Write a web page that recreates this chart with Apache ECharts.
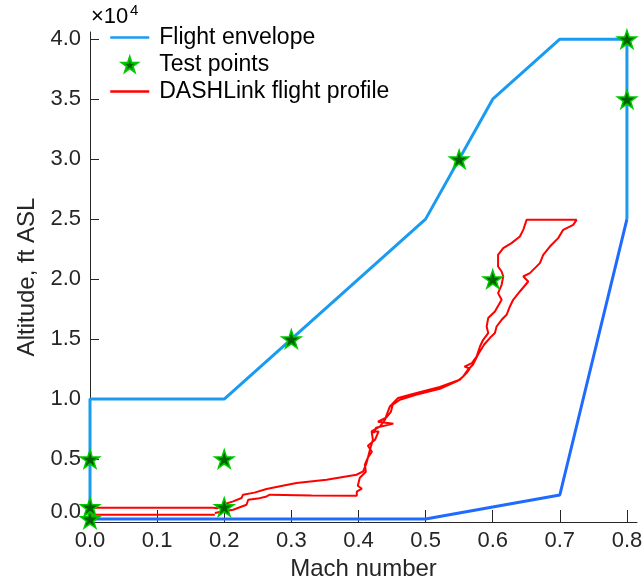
<!DOCTYPE html>
<html>
<head>
<meta charset="utf-8">
<script src="https://cdn.jsdelivr.net/npm/echarts@6/dist/echarts.min.js"></script>
<style>
html,body{margin:0;padding:0;background:#fff;}
#chart{width:644px;height:579px;}
</style>
</head>
<body>
<div id="chart"></div>
<script>
// ---- data ----
const xTicks = [0, 0.1, 0.2, 0.3, 0.4, 0.5, 0.6, 0.7, 0.8];
const yTicks = [0, 5000, 10000, 15000, 20000, 25000, 30000, 35000, 40000];

// flight envelope, upper boundary
const envUpperMach = [0, 0, 0.2, 0.5, 0.6, 0.7, 0.8, 0.8];
const envUpperAlt  = [0, 10000, 10000, 25000, 35000, 40000, 40000, 25000];
// flight envelope, lower boundary
const envLowerMach = [0, 0.5, 0.7, 0.8];
const envLowerAlt  = [0, 0, 2000, 25000];

// test points
const testMach = [0, 0, 0, 0.2, 0.2, 0.3, 0.55, 0.6, 0.8, 0.8];
const testAlt  = [0, 1000, 5000, 1000, 5000, 15000, 30000, 20000, 35000, 40000];

// DASHLink flight profile
const profileMach = [
  0.186, 0.183, 0, 0, 0.183, 0.190, 0.196, 0.201, 0.2133, 0.2258, 0.228, 0.245, 0.263, 0.285, 0.3077, 0.3525, 0.397, 0.407, 0.412,
  0.4171, 0.4215, 0.4196, 0.4322, 0.4396, 0.442, 0.4468, 0.459, 0.4866, 0.5213, 0.551, 0.561, 0.566, 0.558, 0.569, 0.576, 0.581, 0.5858,
  0.5933, 0.591, 0.5933, 0.6033, 0.6133, 0.608, 0.6133, 0.6157, 0.6133, 0.608, 0.608, 0.6157, 0.628, 0.6405, 0.6455, 0.6505,
  0.725, 0.72, 0.705, 0.6976, 0.6852, 0.6753, 0.6703, 0.6554, 0.6455, 0.653, 0.6405, 0.6305, 0.6256, 0.6207, 0.6133, 0.6058, 0.6033,
  0.596, 0.587, 0.578, 0.5705, 0.563, 0.5556, 0.548, 0.5213, 0.4855, 0.4617, 0.451, 0.4483, 0.441, 0.429, 0.452, 0.426, 0.4232, 0.42, 0.430, 0.4247,
  0.414, 0.420, 0.414, 0.4095, 0.411, 0.402, 0.399, 0.405, 0.3975, 0.3975,
  0.330, 0.268, 0.263, 0.250, 0.2357, 0.2332, 0.2133, 0.195, 0.186
];
const profileAlt = [
  360, 360, 360, 940, 940, 900, 1100, 1250, 1467, 1750, 2025, 2200, 2500, 2750, 3000, 3275, 3690, 3967, 4667,
  5775, 6608, 7300, 7717, 8275, 8690, 9383, 10083, 10500, 11000, 11608, 12167, 12550, 12700, 13000, 13550, 14383, 14940,
  15500, 16050, 16750, 17300, 18275, 18830, 19525, 20217, 20630, 21050, 22025, 22580, 23000, 23550, 24108, 24940,
  24940, 24525, 24108, 23417, 22717, 22025, 21333, 20500, 20217, 19800, 18967, 18275, 17717, 17025, 16608, 16050, 15500,
  15108, 14525, 13690, 12858, 12440, 11858, 11525, 10858, 10358, 9940, 9525, 8940, 8440, 8108, 7950, 7608, 7190, 7300, 7300, 6608,
  6108, 5608, 5108, 4525, 3940, 3440, 2775, 2525, 2275, 1940,
  1960, 2025, 1883, 1700, 1608, 1192, 775, 600, 500
];

// ---- build ----
const zip = (a, b) => a.map((v, i) => [v, b[i]]);

function starPath() {
  const pts = [];
  for (let i = 0; i < 10; i++) {
    const r = (i % 2) ? 0.382 : 1;
    const a = (-90 + i * 36) * Math.PI / 180;
    pts.push((r * Math.cos(a)).toFixed(4) + ',' + (r * Math.sin(a)).toFixed(4));
  }
  return 'path://M' + pts.join(' L') + ' Z';
}
const STAR = starPath();

const FONT = '"Liberation Sans", Arial, sans-serif';
const TXT = '#262626';
const BLUE_UP = '#1a9bf2';
const BLUE_LO = '#1f6bff';

const chart = echarts.init(document.getElementById('chart'), null, {renderer: 'canvas'});
chart.setOption({
  animation: false,
  backgroundColor: '#ffffff',
  grid: {left: 90, right: 7, top: 32, bottom: 57, containLabel: false, outerBoundsMode: 'none'},
  legend: {
    orient: 'vertical',
    left: 109,
    top: 24,
    padding: 0,
    itemWidth: 39,
    itemHeight: 15,
    itemGap: 0,
    data: [
      {name: 'Flight envelope', itemStyle: {opacity: 0}, lineStyle: {width: 2.5, color: BLUE_UP}},
      {name: 'Test points'},
      {name: 'DASHLink flight profile', itemStyle: {opacity: 0}, lineStyle: {width: 2.5, color: '#ff0000'}}
    ],
    textStyle: {fontFamily: FONT, fontSize: 23, color: '#000', lineHeight: 27, padding: [0, 0, 0, 5]},
    selectedMode: false
  },
  graphic: [
    {type: 'text', left: 91, top: 6, style: {text: '×10', fontFamily: FONT, fontSize: 22, fill: '#000'}},
    {type: 'text', left: 130, top: 3, style: {text: '4', fontFamily: FONT, fontSize: 15, fill: '#000'}}
  ],
  xAxis: {
    type: 'value',
    min: 0,
    max: 0.815,
    name: 'Mach number',
    nameLocation: 'middle',
    nameGap: 31,
    nameTextStyle: {fontFamily: FONT, fontSize: 24, color: TXT},
    axisLine: {show: true, onZero: false, lineStyle: {color: TXT, width: 1}},
    axisTick: {show: true, inside: true, length: 12, customValues: xTicks, lineStyle: {color: TXT, width: 1}},
    axisLabel: {customValues: xTicks, fontFamily: FONT, fontSize: 22, color: TXT, margin: 8,
      formatter: v => v.toFixed(1)},
    splitLine: {show: false}
  },
  yAxis: {
    type: 'value',
    min: -250,
    max: 40600,
    name: 'Altitude, ft ASL',
    nameLocation: 'middle',
    nameGap: 51,
    nameTextStyle: {fontFamily: FONT, fontSize: 24, color: TXT},
    axisLine: {show: true, onZero: false, lineStyle: {color: TXT, width: 1}},
    axisTick: {show: true, inside: true, length: 9, customValues: yTicks, lineStyle: {color: TXT, width: 1}},
    axisLabel: {customValues: yTicks, fontFamily: FONT, fontSize: 22, color: TXT, margin: 9,
      formatter: v => v === 0 ? '{z|0.0}' : (v / 10000).toFixed(1),
      rich: {z: {fontFamily: FONT, fontSize: 22, color: TXT, padding: [0, 0, 15, 0]}}},
    splitLine: {show: false}
  },
  series: [
    {
      name: 'Flight envelope', type: 'line', data: zip(envUpperMach, envUpperAlt),
      showSymbol: false, symbol: 'none', lineStyle: {color: BLUE_UP, width: 3}, itemStyle: {color: BLUE_UP},
      z: 2, clip: false
    },
    {
      name: 'Flight envelope', type: 'line', data: zip(envLowerMach, envLowerAlt),
      showSymbol: false, symbol: 'none', lineStyle: {color: BLUE_LO, width: 3}, itemStyle: {color: BLUE_LO},
      z: 2, clip: false
    },
    {
      name: 'Test points', type: 'scatter', data: zip(testMach, testAlt),
      symbol: STAR, symbolSize: 19, symbolKeepAspect: true,
      itemStyle: {color: '#006400', borderColor: '#00c800', borderWidth: 1.5, opacity: 1},
      z: 5, clip: false
    },
    {
      name: 'DASHLink flight profile', type: 'line', data: zip(profileMach, profileAlt),
      showSymbol: false, symbol: 'none', lineStyle: {color: '#ff0000', width: 2}, itemStyle: {color: '#ff0000'},
      z: 3, clip: false
    }
  ]
});
</script>
</body>
</html>
